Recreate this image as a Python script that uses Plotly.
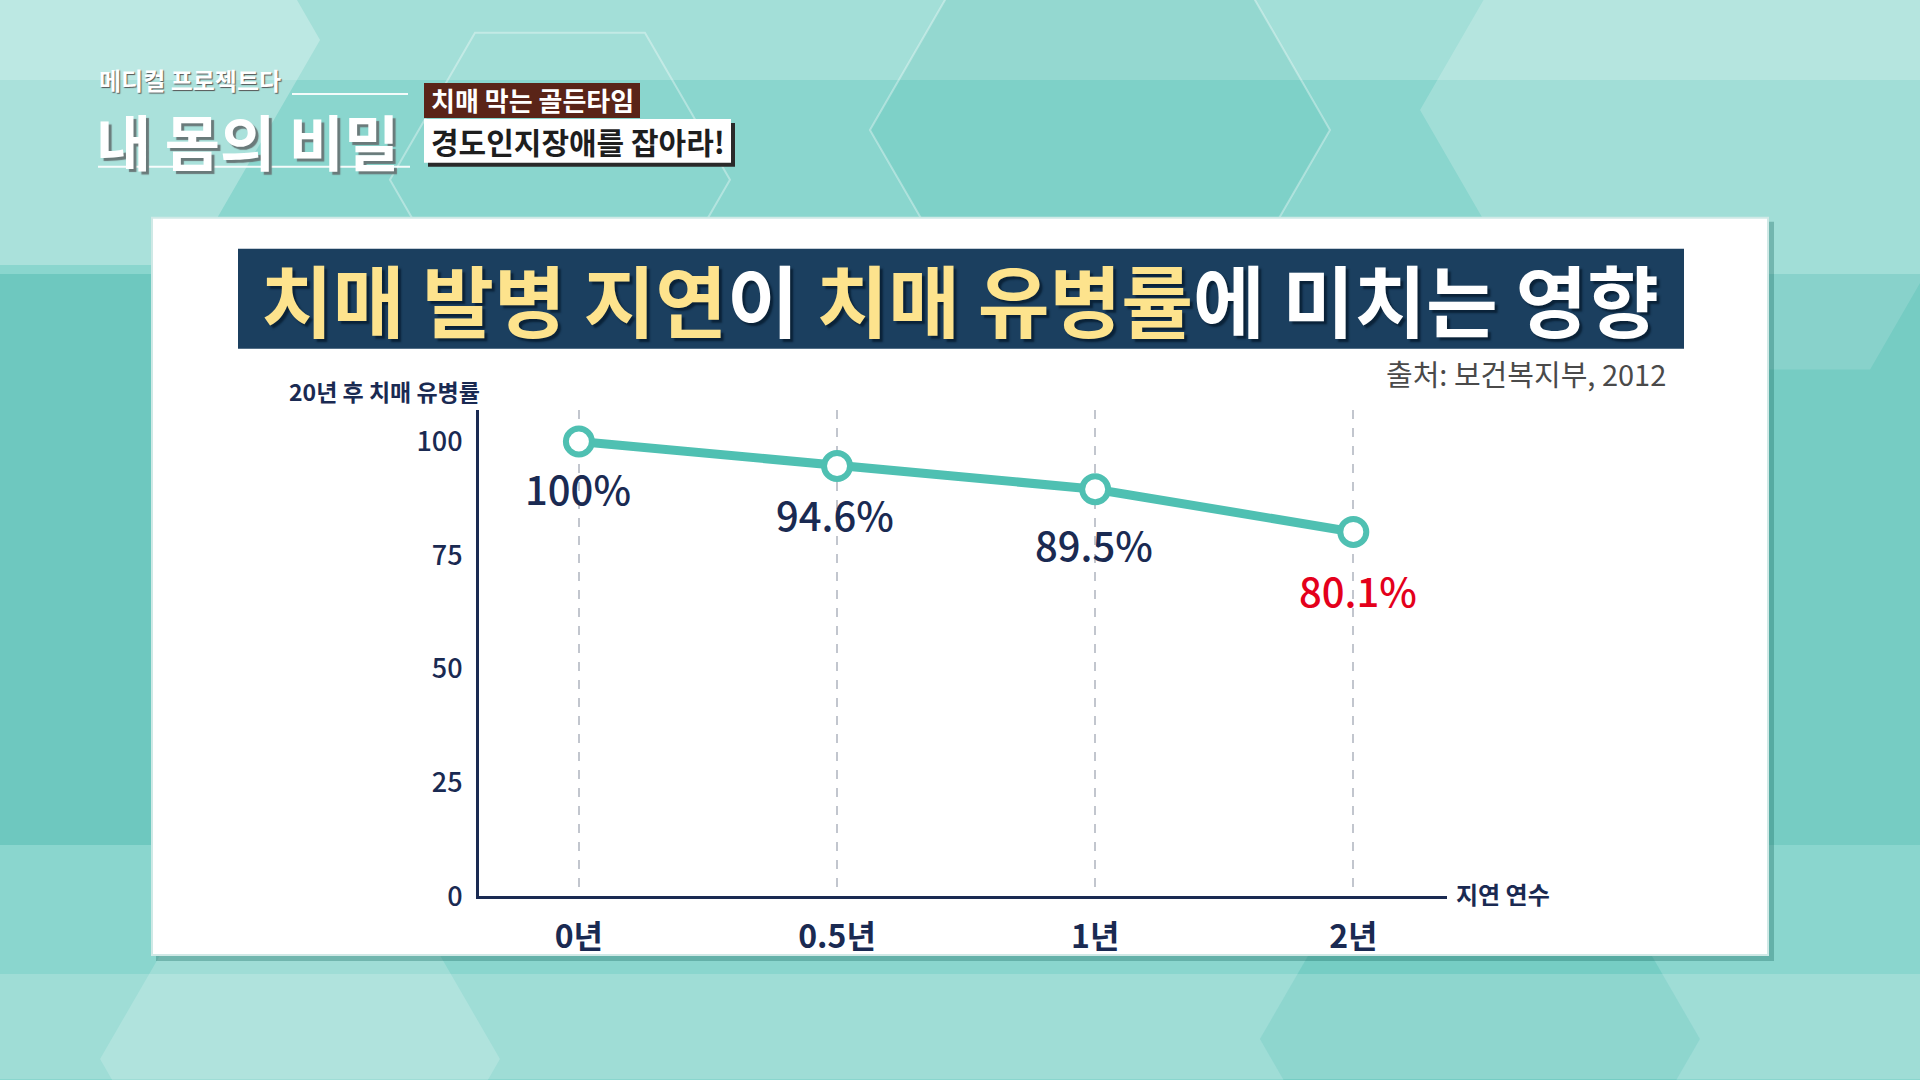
import math
import plotly.graph_objects as go

# ---- data ----
categories = ["0년", "0.5년", "1년", "2년"]
values = [100, 94.6, 89.5, 80.1]
value_labels = ["100%", "94.6%", "89.5%", "80.1%"]
y_ticks = [0, 25, 50, 75, 100]

title_parts = [("치매 발병 지연", "yellow"), ("이 ", "white"), ("치매 유병률", "yellow"), ("에 미치는 영향", "white")]
source_text = "출처: 보건복지부, 2012"
y_title = "20년 후 치매 유병률"
x_title = "지연 연수"

W, H = 1920, 1080          # design space
FIG_H = 1096               # rendered height (capture is scaled to 1080)
FONT = "Noto Sans CJK KR"
NAVY = "#1a2a52"
TEAL = "#4fc0b2"
RED = "#e4001b"


def px(x):
    return x / W


def py(y):
    return 1 - y / H


fig = go.Figure()

fig.add_trace(go.Scatter(
    x=categories, y=values, mode="lines+markers",
    line=dict(color=TEAL, width=9),
    marker=dict(symbol="circle", size=26, color="white", line=dict(color=TEAL, width=6)),
    hoverinfo="skip", showlegend=False,
))

shapes = []


def hexagon(cx, cy, r, fill, line="rgba(0,0,0,0)", lw=0):
    pts = []
    for k in range(6):
        a = math.pi / 3 * k
        pts.append((px(cx + r * math.cos(a)), py(cy + r * math.sin(a))))
    path = "M " + " L ".join(f"{a:.4f},{b:.4f}" for a, b in pts) + " Z"
    return dict(type="path", xref="paper", yref="paper", path=path,
                fillcolor=fill, line=dict(color=line, width=lw), layer="below")


shapes.append(dict(type="rect", xref="paper", yref="paper", x0=0, x1=1, y0=py(0), y1=py(80),
                   fillcolor="rgba(255,255,255,0.22)", line=dict(width=0), layer="below"))
shapes.append(hexagon(60, 40, 260, "rgba(255,255,255,0.28)"))
shapes.append(hexagon(1720, 110, 300, "rgba(255,255,255,0.2)"))
shapes.append(hexagon(40, 560, 330, "rgba(40,165,155,0.28)"))
shapes.append(hexagon(1890, 560, 330, "rgba(40,165,155,0.2)"))
shapes.append(hexagon(1100, 130, 230, "rgba(40,170,160,0.12)", "rgba(255,255,255,0.35)", 2))
shapes.append(hexagon(560, 180, 170, "rgba(255,255,255,0.0)", "rgba(255,255,255,0.35)", 2))
shapes.append(hexagon(1480, 1040, 220, "rgba(40,170,160,0.2)"))
shapes.append(hexagon(300, 1060, 200, "rgba(255,255,255,0.18)"))
shapes.append(dict(type="rect", xref="paper", yref="paper", x0=0, x1=1, y0=py(1080), y1=py(975),
                   fillcolor="rgba(255,255,255,0.18)", line=dict(width=0), layer="below"))

# white panel with shadow
shapes.append(dict(type="rect", xref="paper", yref="paper", x0=px(156), x1=px(1774), y0=py(962), y1=py(222),
                   fillcolor="rgba(30,110,100,0.35)", line=dict(width=0), layer="below"))
shapes.append(dict(type="rect", xref="paper", yref="paper", x0=px(152), x1=px(1768), y0=py(956), y1=py(218),
                   fillcolor="#ffffff", line=dict(color="#cfe9e6", width=2), layer="below"))
# title bar
shapes.append(dict(type="rect", xref="paper", yref="paper", x0=px(238), x1=px(1684), y0=py(349), y1=py(249),
                   fillcolor="#1b3f5f", line=dict(width=0), layer="below"))

# logo boxes
shapes.append(dict(type="rect", xref="paper", yref="paper", x0=px(428), x1=px(735), y0=py(167), y1=py(123),
                   fillcolor="#2a2a2a", line=dict(width=0), layer="below"))
shapes.append(dict(type="rect", xref="paper", yref="paper", x0=px(424), x1=px(731), y0=py(163), y1=py(119),
                   fillcolor="#ffffff", line=dict(width=0), layer="below"))
shapes.append(dict(type="rect", xref="paper", yref="paper", x0=px(424), x1=px(640), y0=py(118), y1=py(83),
                   fillcolor="#5a2418", line=dict(width=0), layer="below"))
shapes.append(dict(type="line", xref="paper", yref="paper", x0=px(292), x1=px(408), y0=py(94), y1=py(94),
                   line=dict(color="rgba(255,255,255,0.9)", width=2)))
shapes.append(dict(type="line", xref="paper", yref="paper", x0=px(98), x1=px(410), y0=py(167), y1=py(167),
                   line=dict(color="rgba(255,255,255,0.9)", width=2)))

colors = {"yellow": "#fde38d", "white": "#ffffff"}
title_html = "".join(f"<span style='color:{colors[c]}'>{t}</span>" for t, c in title_parts)

annotations = [
    dict(text=f"<b>{title_html}</b>", x=px(960), y=py(298), xref="paper", yref="paper",
         showarrow=False, xanchor="center", yanchor="middle",
         font=dict(family=FONT, size=78, color="#ffffff", shadow="3px 3px 2px #0a2238")),
    dict(text=source_text, x=px(1668), y=py(373), xref="paper", yref="paper",
         showarrow=False, xanchor="right", yanchor="middle",
         font=dict(family=FONT, size=29, color="#4a4a4a")),
    dict(text=f"<b>{y_title}</b>", x=px(482), y=py(391), xref="paper", yref="paper",
         showarrow=False, xanchor="right", yanchor="middle",
         font=dict(family=FONT, size=23, color=NAVY)),
    dict(text=f"<b>{x_title}</b>", x=px(1454), y=py(894), xref="paper", yref="paper",
         showarrow=False, xanchor="left", yanchor="middle",
         font=dict(family=FONT, size=24, color=NAVY)),
    # logo texts
    dict(text="<b>메디컬 프로젝트다</b>", x=px(97), y=py(80), xref="paper", yref="paper",
         showarrow=False, xanchor="left", yanchor="middle",
         font=dict(family=FONT, size=24, color="#ffffff", shadow="1px 1px 1px #555")),
    dict(text="<b>내 몸의 비밀</b>", x=px(94), y=py(140), xref="paper", yref="paper",
         showarrow=False, xanchor="left", yanchor="middle",
         font=dict(family=FONT, size=60, color="#ffffff", shadow="3px 3px 1px #6a7a7a")),
    dict(text="<b>치매 막는 골든타임</b>", x=px(532), y=py(100), xref="paper", yref="paper",
         showarrow=False, xanchor="center", yanchor="middle",
         font=dict(family=FONT, size=26, color="#ffffff")),
    dict(text="<b>경도인지장애를 잡아라!</b>", x=px(578), y=py(141), xref="paper", yref="paper",
         showarrow=False, xanchor="center", yanchor="middle",
         font=dict(family=FONT, size=30, color="#1e1e1e")),
]

label_shift = [(-1, -47), (-2, -48), (-1, -55), (5, -58)]
label_colors = [NAVY, NAVY, NAVY, RED]
for cat, v, lab, (dx, dy), col in zip(categories, values, value_labels, label_shift, label_colors):
    annotations.append(dict(text=lab, x=cat, y=v, xref="x", yref="y", showarrow=False,
                            xshift=dx, yshift=dy, xanchor="center", yanchor="middle",
                            font=dict(family=FONT, size=40, color=col, weight=500)))

fig.update_layout(
    width=W, height=FIG_H,
    margin=dict(l=0, r=0, t=0, b=0),
    paper_bgcolor="#8ad6ce",
    plot_bgcolor="rgba(0,0,0,0)",
    shapes=shapes,
    annotations=annotations,
    xaxis=dict(domain=[px(479), px(1447)], type="category", range=[-0.387, 3.363],
               showline=True, linecolor=NAVY, linewidth=3,
               showgrid=True, gridcolor="#c2c6ce", gridwidth=2, griddash="dash",
               ticks="", ticklabelstandoff=10, zeroline=False,
               tickfont=dict(family=FONT, size=32, color=NAVY, weight=700)),
    yaxis=dict(domain=[py(897), py(410)], range=[0, 107],
               tickvals=y_ticks, showline=True, linecolor=NAVY, linewidth=3,
               showgrid=False, zeroline=False, ticks="", ticklabelstandoff=8,
               tickfont=dict(family=FONT, size=27, color=NAVY, weight=500)),
    hovermode=False,
)

post = (
    "document.documentElement.style.margin='0';document.documentElement.style.background='#9fdcd5';"
    "document.body.style.margin='0';document.body.style.overflow='hidden';"
    "document.body.style.background='#9fdcd5';"
)
fig.write_html("out.html", config={"displayModeBar": False}, post_script=post)
